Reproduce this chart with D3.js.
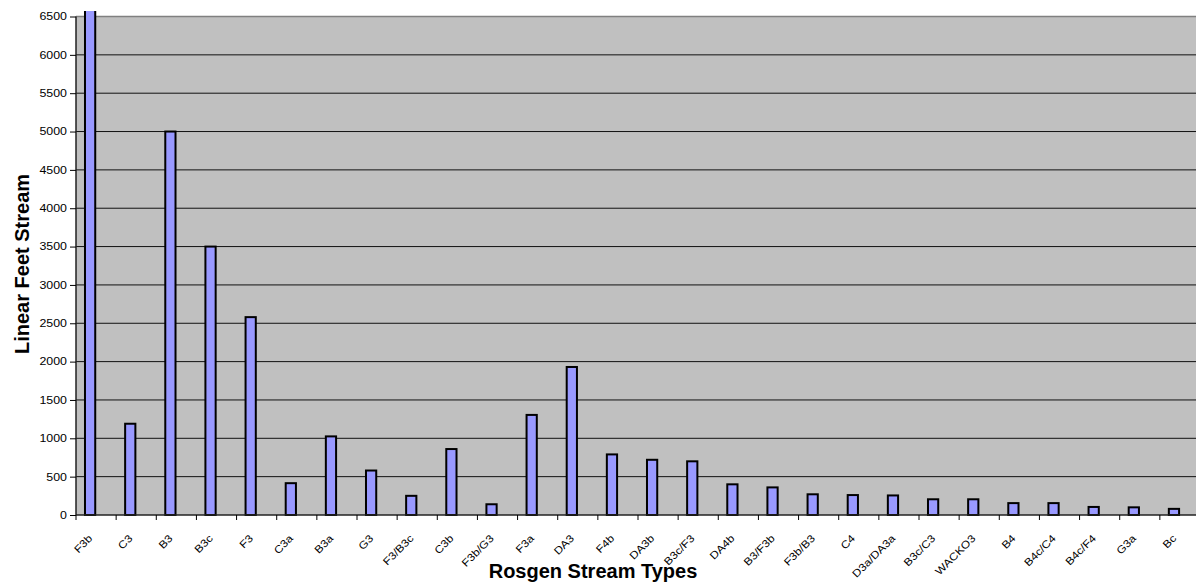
<!DOCTYPE html>
<html><head><meta charset="utf-8">
<script src="https://cdn.jsdelivr.net/npm/d3@7"></script>
<style>body{margin:0;background:#fff;overflow:hidden}text{font-family:"Liberation Sans",Arial,sans-serif}</style>
</head><body>
<svg id="c" width="1196" height="588"></svg>
<script>
const categories = ["F3b","C3","B3","B3c","F3","C3a","B3a","G3","F3/B3c","C3b","F3b/G3","F3a","DA3","F4b","DA3b","B3c/F3","DA4b","B3/F3b","F3b/B3","C4","D3a/DA3a","B3c/C3","WACKO3","B4","B4c/C4","B4c/F4","G3a","Bc"];
const values = [7200,1190,5000,3500,2580,415,1025,580,250,860,140,1305,1930,790,720,700,400,360,270,260,255,205,205,155,155,105,100,80];
const yTicks = [0,500,1000,1500,2000,2500,3000,3500,4000,4500,5000,5500,6000,6500];

const svg = d3.select("#c");
const L = 76, R = 1200, T = 16.5, B = 515;
const x = d3.scaleBand().domain(categories).range([L, R]).padding(0);
const y = d3.scaleLinear().domain([0, 6500]).range([B, T]);

svg.append("rect").attr("x", L).attr("y", T).attr("width", R - L).attr("height", B - T).attr("fill", "#c0c0c0");

// gridlines
svg.append("g").selectAll("line").data(yTicks.filter(v => v > 0 && v < 6500)).join("line")
  .attr("x1", L).attr("x2", R).attr("y1", d => y(d)).attr("y2", d => y(d))
  .attr("stroke", "#111").attr("stroke-width", 1);
// top border
svg.append("line").attr("x1", L).attr("x2", R).attr("y1", T).attr("y2", T).attr("stroke", "#808080").attr("stroke-width", 1.5);

svg.append("clipPath").attr("id", "clp").append("rect").attr("x", 0).attr("y", 11).attr("width", 1300).attr("height", 600);

// bars
const bw = x.bandwidth();
svg.append("g").attr("clip-path", "url(#clp)").selectAll("rect").data(values).join("rect")
  .attr("x", (d, i) => x(categories[i]) + bw * 0.224)
  .attr("y", d => y(d))
  .attr("width", bw * 0.255)
  .attr("height", d => B - y(d))
  .attr("fill", "#9999ff").attr("stroke", "#000").attr("stroke-width", 2);

// y axis
const yAxis = d3.axisLeft(y).tickValues(yTicks).tickSize(6).tickFormat(d3.format("d"));
const gy = svg.append("g").attr("transform", `translate(${L},0)`).call(yAxis);
gy.select(".domain").attr("stroke", "#222").attr("stroke-width", 1.5).attr("d", `M0,${T}V${B}`);
gy.selectAll(".tick line").attr("stroke", "#000");
gy.selectAll("text").attr("font-size", 10.5).attr("fill", "#000")
  .attr("font-family", "Liberation Sans, Arial, sans-serif")
  .attr("x", 0).attr("transform", "translate(-9,0) scale(1.18,1)");

// x axis
const gx = svg.append("g").attr("transform", `translate(0,${B})`);
gx.append("line").attr("x1", L).attr("x2", R).attr("stroke", "#222").attr("stroke-width", 1.5);
gx.selectAll("line.t").data(d3.range(categories.length + 1)).join("line").attr("class", "t")
  .attr("x1", i => L + i * bw).attr("x2", i => L + i * bw).attr("y1", 0).attr("y2", 5)
  .attr("stroke", "#000");
gx.selectAll("text").data(categories).join("text")
  .attr("transform", d => `translate(${x(d) + bw / 2 - 3},${24}) rotate(-45) scale(1.15,1)`)
  .attr("text-anchor", "end").attr("font-size", 10.5).attr("fill", "#000")
  .text(d => d);

// titles
svg.append("text").attr("x", 593).attr("y", 578).attr("text-anchor", "middle")
  .attr("font-size", 20).attr("font-weight", "bold").text("Rosgen Stream Types");
svg.append("text").attr("transform", "translate(29,264) rotate(-90)").attr("text-anchor", "middle")
  .attr("font-size", 20).attr("font-weight", "bold").text("Linear Feet Stream");
</script>
</body></html>
